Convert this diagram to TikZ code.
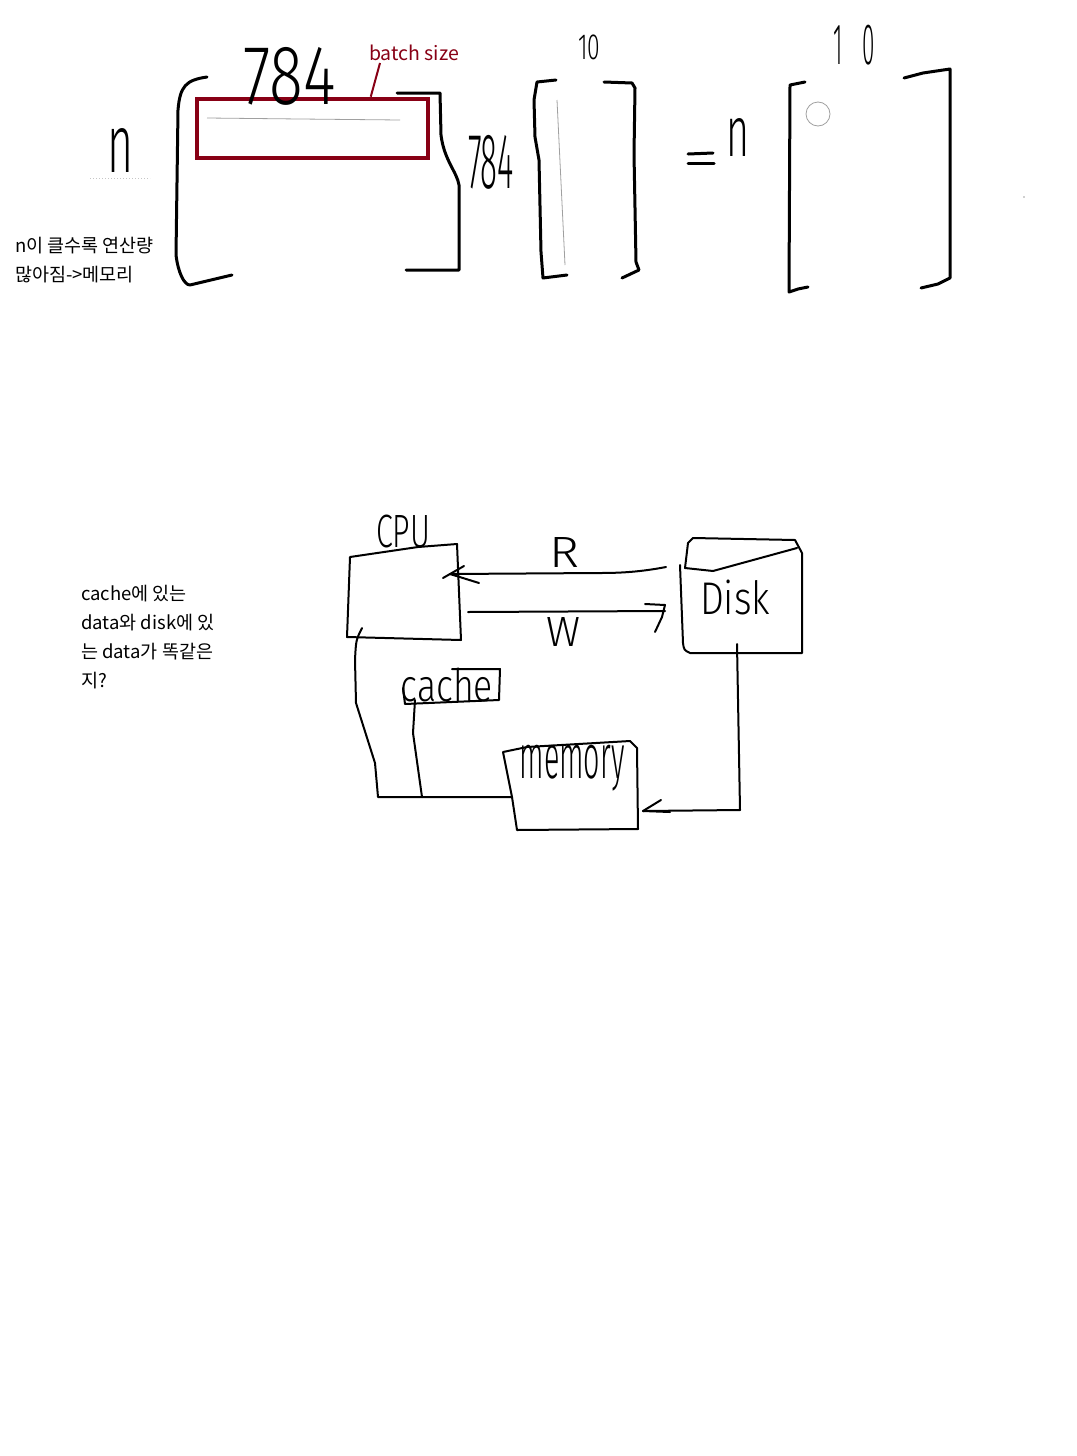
\documentclass[tikz,border=0pt]{standalone}
\usepackage{fontspec}
\setmainfont{Noto Sans CJK KR}
\IfFontExistsTF{Fira Sans Light}{\newfontfamily\hand{Fira Sans Light}}{\newfontfamily\hand{Liberation Sans}}
\definecolor{boxred}{RGB}{136,0,21}
\definecolor{faint}{RGB}{160,160,160}
\newcommand{\hwtext}[3]{\resizebox*{#1}{#2}{\hand #3}}
\begin{document}
\begin{tikzpicture}[x=1pt,y=-1pt,
  pen/.style={line width=3pt,line cap=round,line join=round},
  thinpen/.style={line width=2pt,line cap=round,line join=round},
  hw/.style={inner sep=0pt},
  note/.style={inner sep=0pt,anchor=north west,align=left,font=\fontsize{18.5}{29}\selectfont}]
\useasboundingbox (0,0) rectangle (1076,1456);
\fill[white] (0,0) rectangle (1076,1456);

% ---------- top: matrix product ----------
% first matrix
\draw[pen] (207,77) .. controls (186,80) and (180,86) .. (178,110) -- (176,255)
  .. controls (178,272) and (184,285) .. (190,285) -- (232,275);
\draw[pen] (397,93) -- (440,93) -- (441,135) .. controls (444,160) and (457,172) .. (459,185)
  -- (459,270) -- (406,270);
\node[draw=boxred,line width=4.5pt,minimum width=231pt,minimum height=59pt,inner sep=0pt]
  (batch) at (312.5,128.5) {};
\draw[faint,line width=0.8pt] (207,118) -- (300,119) -- (400,120);
\node[inner sep=0pt,anchor=south west,text=boxred,font=\fontsize{19.5}{19.5}\selectfont]
  (bs) at (369,61) {batch size};
\draw[boxred,line width=2pt] ([xshift=11pt,yshift=-2pt]bs.south west) -- ([xshift=176pt]batch.north west);
\node[hw] (n1) at (120,150) {\hwtext{26pt}{44pt}{n}};
\draw[faint!60,dotted,line width=1pt] (90,178) -- (150,178);
\node[hw] (t784a) at (290,76) {\hwtext{92pt}{58pt}{784}};
\node[hw] (t784b) at (491,162) {\hwtext{46pt}{54pt}{784}};

% second matrix
\draw[pen] (556,80) -- (537,82) -- (534,100) -- (535,137) -- (539,160) -- (541,252)
  -- (543,278) -- (567,275);
\draw[pen] (604,82) -- (632,83) -- (635,88) -- (634,154) -- (636,262) -- (639,270) -- (622,278);
\draw[faint,line width=0.8pt] (557,100) -- (565,265);
\node[hw] (t10a) at (589,47) {\hwtext{22pt}{25pt}{10}};

% equals n
\draw[pen] (688,154) -- (713,153);
\draw[pen] (688,163) -- (714,163);
\node[hw] (n2) at (738,137) {\hwtext{23pt}{38pt}{n}};

% result matrix
\draw[pen] (805,82) -- (790,85) -- (789,292) -- (798,289) -- (808,287);
\draw[pen] (904,78) -- (923,73) -- (950,69) -- (950,278) -- (938,284) -- (921,288);
\draw[faint,line width=0.8pt] (818,114) circle (12pt);
\fill[faint] (1024,197) circle (0.8pt);
\node[hw] (t10b) at (854,45) {\hwtext{42pt}{40pt}{1\hspace{0.9em}0}};

% notes
\node[note] (note1) at (15,237) {n이 클수록 연산량\\많아짐->메모리};
\node[note] (note2) at (81,585) {cache에 있는\\data와 disk에 있\\는 data가 똑같은\\지?};

% ---------- bottom: memory hierarchy ----------
% CPU box
\draw[thinpen] (350,557) -- (418,547) -- (457,544) -- (461,640) -- (347,637) -- (350,557);
\node[hw] (cpu) at (403,531) {\hwtext{54pt}{33pt}{CPU}};
% Disk box
\draw[thinpen] (680,565) -- (683,643) .. controls (684,650) .. (690,653) -- (802,653)
  -- (802,553) -- (795,540) -- (693,538) -- (688,543) -- (685,568)
  -- (713,571) -- (797,548);
\node[hw] (disk) at (735,597) {\hwtext{70pt}{35pt}{Disk}};
% cache box
\draw[thinpen] (452,669) -- (500,669) -- (499,700) -- (405,704) -- (403,688);
\node[hw] (cache) at (447,685) {\hwtext{92pt}{34pt}{cache}};
% memory box
\draw[thinpen] (503,752) -- (527,747) -- (630,741) -- (637,748) -- (638,829) -- (517,830)
  -- (512,797) -- (503,752);
\node[hw] (mem) at (572,768) {\hwtext{105pt}{46pt}{memory}};

% connector anchors
\coordinate (diskR) at (666,567);
\coordinate (cpuR) at (450,574);
\coordinate (cpuW) at (468,612);
\coordinate (diskW) at (665,611);
\coordinate (cpuBL) at (362,628);
\coordinate (memL) at (512,797);
\coordinate (cacheB) at (415,700);
\coordinate (diskB) at (737,644);
\coordinate (memR) at (643,811);

% R arrow
\draw[thinpen] (diskR) .. controls (640,572) and (620,573) .. (600,573) -- (cpuR) -- (443,578);
\draw[thinpen] (464,566) -- (cpuR) -- (479,583);
\node[hw] (R) at (564,552) {\hwtext{30pt}{30pt}{R}};
% W arrow
\draw[thinpen] (cpuW) -- (diskW);
\draw[thinpen] (645,604) -- (665,605) -- (662,617) -- (655,632);
\node[hw] (W) at (563,632) {\hwtext{34pt}{29pt}{W}};
% CPU -> memory
\draw[thinpen] (cpuBL) .. controls (356,640) .. (355,660) -- (356,703) -- (375,763)
  -- (378,797) -- (memL);
% cache -> memory
\draw[thinpen] (cacheB) -- (413,733) -- (422,797);
% disk -> memory
\draw[thinpen] (diskB) -- (740,810) -- (memR);
\draw[thinpen] (661,800) -- (memR) -- (670,812);
\end{tikzpicture}
\end{document}
